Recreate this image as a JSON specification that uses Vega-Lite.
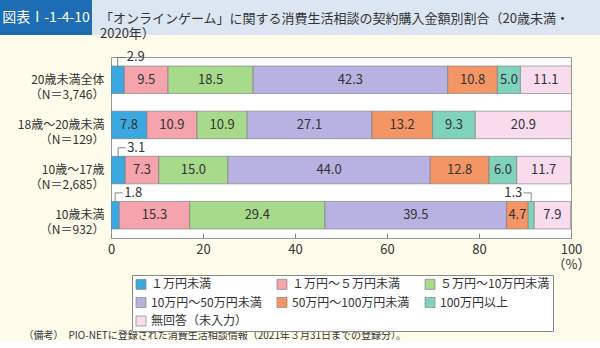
{
  "$schema": "https://vega.github.io/schema/vega-lite/v6.json",
  "background": "#fffcec",
  "padding": 0,
  "spacing": 9,
  "columns": 1,
  "align": "none",
  "bounds": "full",
  "resolve": {"scale": {"color": "independent"}, "legend": {"color": "independent"}},
  "config": {"font": "Noto Sans CJK JP", "view": {"stroke": null}},
  "concat": [
    {
      "spacing": 0,
      "hconcat": [
        {
          "width": 92,
          "height": 35,
          "view": {"fill": "#1d6db4", "stroke": null},
          "data": {"values": [{"t": "図表Ⅰ-1-4-10"}]},
          "mark": {"type": "text", "color": "#ffffff", "fontSize": 14, "baseline": "middle"},
          "encoding": {"text": {"field": "t"}}
        },
        {
          "width": 508,
          "height": 35,
          "view": {"fill": "#dce6f2", "stroke": null},
          "data": {"values": [{"t": "「オンラインゲーム」に関する消費生活相談の契約購入金額別割合（20歳未満・\n2020年）"}]},
          "mark": {"type": "text", "align": "left", "baseline": "middle", "dx": -246, "dy": 1.5, "fontSize": 13, "lineHeight": 15, "lineBreak": "\n", "color": "#333333"},
          "encoding": {"text": {"field": "t"}}
        }
      ]
    },
    {
      "spacing": 0,
      "hconcat": [
        {
          "width": 1,
          "height": 181,
          "data": {"values": []},
          "mark": "point"
        },
        {
          "width": 460,
          "height": 181,
          "view": {"fill": "#ffffff", "stroke": "#999999", "strokeWidth": 1},
          "data": {
            "values": [
              {"cat": "20歳未満全体|（N＝3,746）", "k": "１万円未満", "o": 1, "v": 2.9},
              {"cat": "20歳未満全体|（N＝3,746）", "k": "１万円～５万円未満", "o": 2, "v": 9.5},
              {"cat": "20歳未満全体|（N＝3,746）", "k": "５万円～10万円未満", "o": 3, "v": 18.5},
              {"cat": "20歳未満全体|（N＝3,746）", "k": "10万円～50万円未満", "o": 4, "v": 42.3},
              {"cat": "20歳未満全体|（N＝3,746）", "k": "50万円～100万円未満", "o": 5, "v": 10.8},
              {"cat": "20歳未満全体|（N＝3,746）", "k": "100万円以上", "o": 6, "v": 5.0},
              {"cat": "20歳未満全体|（N＝3,746）", "k": "無回答（未入力）", "o": 7, "v": 11.1},
              {"cat": "18歳～20歳未満|（N＝129）", "k": "１万円未満", "o": 1, "v": 7.8},
              {"cat": "18歳～20歳未満|（N＝129）", "k": "１万円～５万円未満", "o": 2, "v": 10.9},
              {"cat": "18歳～20歳未満|（N＝129）", "k": "５万円～10万円未満", "o": 3, "v": 10.9},
              {"cat": "18歳～20歳未満|（N＝129）", "k": "10万円～50万円未満", "o": 4, "v": 27.1},
              {"cat": "18歳～20歳未満|（N＝129）", "k": "50万円～100万円未満", "o": 5, "v": 13.2},
              {"cat": "18歳～20歳未満|（N＝129）", "k": "100万円以上", "o": 6, "v": 9.3},
              {"cat": "18歳～20歳未満|（N＝129）", "k": "無回答（未入力）", "o": 7, "v": 20.9},
              {"cat": "10歳～17歳|（N＝2,685）", "k": "１万円未満", "o": 1, "v": 3.1},
              {"cat": "10歳～17歳|（N＝2,685）", "k": "１万円～５万円未満", "o": 2, "v": 7.3},
              {"cat": "10歳～17歳|（N＝2,685）", "k": "５万円～10万円未満", "o": 3, "v": 15.0},
              {"cat": "10歳～17歳|（N＝2,685）", "k": "10万円～50万円未満", "o": 4, "v": 44.0},
              {"cat": "10歳～17歳|（N＝2,685）", "k": "50万円～100万円未満", "o": 5, "v": 12.8},
              {"cat": "10歳～17歳|（N＝2,685）", "k": "100万円以上", "o": 6, "v": 6.0},
              {"cat": "10歳～17歳|（N＝2,685）", "k": "無回答（未入力）", "o": 7, "v": 11.7},
              {"cat": "10歳未満|（N＝932）", "k": "１万円未満", "o": 1, "v": 1.8},
              {"cat": "10歳未満|（N＝932）", "k": "１万円～５万円未満", "o": 2, "v": 15.3},
              {"cat": "10歳未満|（N＝932）", "k": "５万円～10万円未満", "o": 3, "v": 29.4},
              {"cat": "10歳未満|（N＝932）", "k": "10万円～50万円未満", "o": 4, "v": 39.5},
              {"cat": "10歳未満|（N＝932）", "k": "50万円～100万円未満", "o": 5, "v": 4.7},
              {"cat": "10歳未満|（N＝932）", "k": "100万円以上", "o": 6, "v": 1.3},
              {"cat": "10歳未満|（N＝932）", "k": "無回答（未入力）", "o": 7, "v": 7.9}
            ]
          },
          "transform": [
            {"stack": "v", "groupby": ["cat"], "sort": [{"field": "o", "order": "ascending"}], "as": ["v0", "v1"]},
            {"calculate": "(datum.v0 + datum.v1) / 2", "as": "mid"},
            {"calculate": "datum.mid < 50 ? datum.mid + 1.6 : datum.mid - 1.6", "as": "lx"}
          ],
          "encoding": {
            "y": {
              "field": "cat",
              "type": "nominal",
              "sort": ["20歳未満全体|（N＝3,746）", "18歳～20歳未満|（N＝129）", "10歳～17歳|（N＝2,685）", "10歳未満|（N＝932）"],
              "scale": {"paddingInner": 0.39, "paddingOuter": 0.2},
              "axis": {
                "title": null,
                "labelExpr": "split(datum.label, '|')",
                "labelFontSize": 12,
                "labelLineHeight": 15,
                "labelColor": "#333333",
                "labelPadding": 7,
                "labelLimit": 200,
                "ticks": false,
                "domain": false,
                "minExtent": 109
              }
            }
          },
          "layer": [
            {
              "mark": {"type": "bar", "stroke": "#777777", "strokeWidth": 0.6, "clip": true},
              "encoding": {
                "x": {
                  "field": "v0",
                  "type": "quantitative",
                  "scale": {"domain": [0, 100], "nice": false},
                  "axis": {
                    "title": "（備考）　PIO-NETに登録された消費生活相談情報（2021年３月31日までの登録分）。",
                    "titleX": -88,
                    "titleY": 97,
                    "titleAlign": "left",
                    "titleBaseline": "middle",
                    "titleFontSize": 10,
                    "titleFontWeight": "normal",
                    "titleColor": "#333333",
                    "values": [0, 20, 40, 60, 80, 100],
                    "labelExpr": "datum.value == 100 ? ['100', '（%）'] : datum.label",
                    "labelFontSize": 13,
                    "labelColor": "#333333",
                    "labelLineHeight": 15,
                    "labelPadding": 10,
                    "labelFlush": false,
                    "tickSize": -5,
                    "tickColor": "#888888",
                    "domain": false,
                    "grid": false
                  }
                },
                "x2": {"field": "v1"},
                "color": {
                  "field": "k",
                  "type": "nominal",
                  "scale": {
                    "domain": ["１万円未満", "１万円～５万円未満", "５万円～10万円未満", "10万円～50万円未満", "50万円～100万円未満", "100万円以上", "無回答（未入力）"],
                    "range": ["#3ba8df", "#f5a3ad", "#a8da8c", "#b8b2e2", "#f39565", "#7fd3bd", "#f8dcee"]
                  },
                  "legend": {
                    "title": null,
                    "orient": "none",
                    "legendX": 132,
                    "legendY": 218,
                    "direction": "horizontal",
                    "columns": 3,
                    "symbolType": "square",
                    "symbolSize": 100,
                    "symbolStrokeColor": "#777777",
                    "symbolStrokeWidth": 0.6,
                    "symbolOpacity": 1,
                    "labelFontSize": 12,
                    "labelColor": "#333333",
                    "labelOffset": 4,
                    "labelLimit": 300,
                    "columnPadding": 13,
                    "rowPadding": 4.5,
                    "padding": 3,
                    "strokeColor": "#888888",
                    "fillColor": "#ffffff"
                  }
                }
              }
            },
            {
              "transform": [{"filter": "datum.v >= 4"}],
              "mark": {"type": "text", "fontSize": 13, "color": "#333333", "baseline": "middle"},
              "encoding": {
                "x": {"field": "mid", "type": "quantitative"},
                "text": {"field": "v", "type": "quantitative", "format": ".1f"}
              }
            },
            {
              "transform": [{"filter": "datum.v < 4"}],
              "mark": {"type": "rule", "color": "#666666", "strokeWidth": 0.8},
              "encoding": {
                "x": {"field": "mid", "type": "quantitative"},
                "y": {"field": "cat", "type": "nominal", "sort": ["20歳未満全体|（N＝3,746）", "18歳～20歳未満|（N＝129）", "10歳～17歳|（N＝2,685）", "10歳未満|（N＝932）"], "bandPosition": 0},
                "y2": {"field": "cat", "bandPosition": -0.31}
              }
            },
            {
              "transform": [{"filter": "datum.v < 4"}],
              "mark": {"type": "rule", "color": "#666666", "strokeWidth": 0.8},
              "encoding": {
                "x": {"field": "mid", "type": "quantitative"},
                "x2": {"field": "lx"},
                "y": {"field": "cat", "type": "nominal", "sort": ["20歳未満全体|（N＝3,746）", "18歳～20歳未満|（N＝129）", "10歳～17歳|（N＝2,685）", "10歳未満|（N＝932）"], "bandPosition": -0.31}
              }
            },
            {
              "transform": [{"filter": "datum.v < 4 && datum.mid < 50"}],
              "mark": {"type": "text", "fontSize": 13, "color": "#333333", "align": "left", "baseline": "middle", "dx": 9},
              "encoding": {
                "x": {"field": "mid", "type": "quantitative"},
                "y": {"field": "cat", "type": "nominal", "sort": ["20歳未満全体|（N＝3,746）", "18歳～20歳未満|（N＝129）", "10歳～17歳|（N＝2,685）", "10歳未満|（N＝932）"], "bandPosition": -0.31},
                "text": {"field": "v", "type": "quantitative", "format": ".1f"}
              }
            },
            {
              "transform": [{"filter": "datum.v < 4 && datum.mid >= 50"}],
              "mark": {"type": "text", "fontSize": 13, "color": "#333333", "align": "right", "baseline": "middle", "dx": -9},
              "encoding": {
                "x": {"field": "mid", "type": "quantitative"},
                "y": {"field": "cat", "type": "nominal", "sort": ["20歳未満全体|（N＝3,746）", "18歳～20歳未満|（N＝129）", "10歳～17歳|（N＝2,685）", "10歳未満|（N＝932）"], "bandPosition": -0.31},
                "text": {"field": "v", "type": "quantitative", "format": ".1f"}
              }
            }
          ]
        }
      ]
    }
  ]
}
